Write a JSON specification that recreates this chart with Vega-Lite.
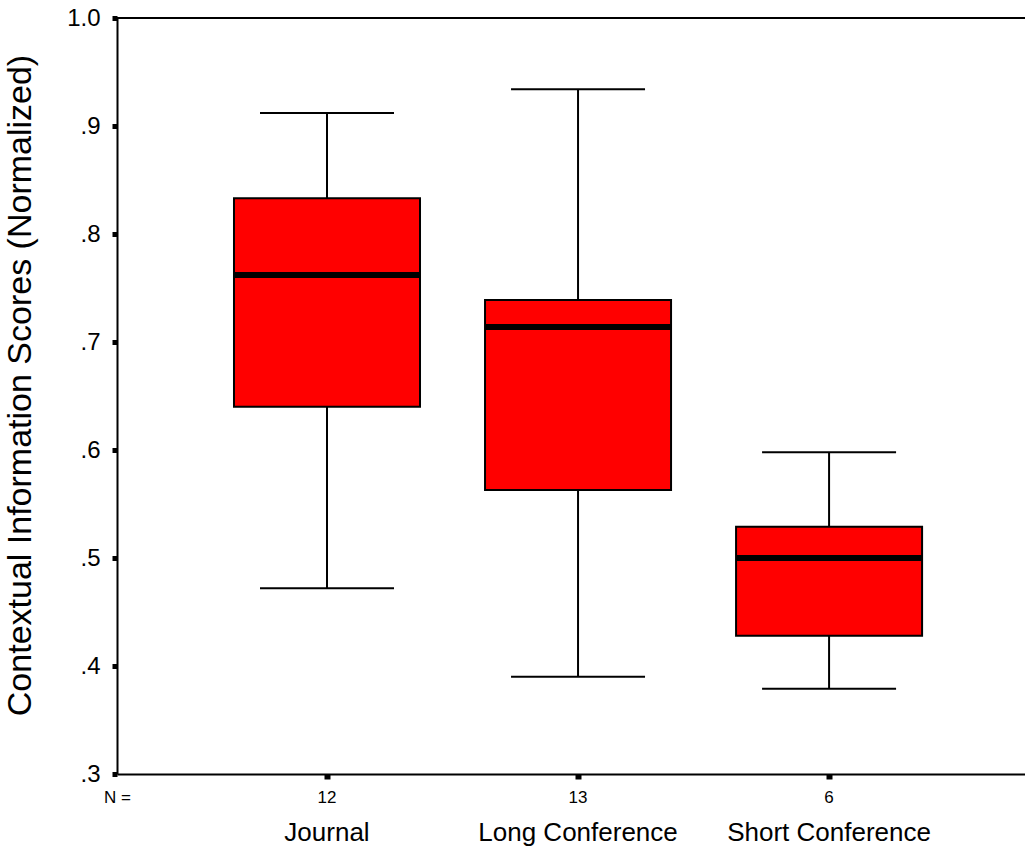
{
  "$schema": "https://vega.github.io/schema/vega-lite/v6.json",
  "width": 908,
  "height": 756,
  "autosize": "none",
  "padding": {"left": 117, "top": 18, "right": 0, "bottom": 74},
  "background": "white",
  "config": {
    "view": {"stroke": null},
    "font": "Liberation Sans",
    "axis": {"grid": false, "labelColor": "black", "titleColor": "black", "domainColor": "black", "tickColor": "black", "labelFont": "Liberation Sans", "titleFont": "Liberation Sans", "labelLimit": 0}
  },
  "data": {
    "values": [
      {"group": "Journal", "n": 12, "min": 0.472, "q1": 0.640, "median": 0.762, "q3": 0.833, "max": 0.912},
      {"group": "Long Conference", "n": 13, "min": 0.390, "q1": 0.563, "median": 0.714, "q3": 0.739, "max": 0.934},
      {"group": "Short Conference", "n": 6, "min": 0.379, "q1": 0.428, "median": 0.500, "q3": 0.529, "max": 0.598}
    ]
  },
  "resolve": {"axis": {"x": "independent"}},
  "layer": [
    {
      "mark": {"type": "rule", "color": "black", "strokeWidth": 2},
      "encoding": {
        "x": {
          "field": "group", "type": "nominal", "sort": null,
          "scale": {"type": "band", "paddingInner": 0.259, "paddingOuter": 0.438, "align": 0.532},
          "axis": {
            "orient": "bottom", "labelAngle": 0, "domainWidth": 2, "tickSize": 5, "tickWidth": 6,
            "labelFontSize": 17, "labelPadding": 10,
            "labelExpr": "datum.value == 'Journal' ? '12' : datum.value == 'Long Conference' ? '13' : '6'",
            "title": "N =", "titleFontSize": 17, "titleFontWeight": "normal", "titleX": 0, "titleY": 15,
            "titleAlign": "center", "titleBaseline": "top", "titleAnchor": null
          }
        },
        "y": {
          "field": "min", "type": "quantitative",
          "scale": {"domain": [0.3, 1.0], "nice": false, "zero": false},
          "axis": {
            "values": [0.3, 0.4, 0.5, 0.6, 0.7, 0.8, 0.9, 1.0],
            "labelExpr": "datum.value >= 0.999 ? '1.0' : '.' + format(datum.value * 10, '.0f')",
            "domainWidth": 2, "tickSize": 5, "tickWidth": 5, "labelFontSize": 24, "labelPadding": 12,
            "title": "Contextual Information Scores (Normalized)", "titleFontSize": 34, "titleFontWeight": "normal", "titlePadding": 29,
            "titleY": 367
          }
        },
        "y2": {"field": "max"}
      }
    },
    {
      "mark": {"type": "bar", "fill": "#ff0000", "stroke": "black", "strokeWidth": 2},
      "encoding": {
        "x": {
          "field": "group", "type": "nominal", "sort": null,
          "axis": {"orient": "bottom", "labelAngle": 0, "domain": false, "ticks": false, "labelFontSize": 26, "labelPadding": 45, "title": null}
        },
        "y": {"field": "q1", "type": "quantitative"},
        "y2": {"field": "q3"}
      }
    },
    {
      "mark": {"type": "tick", "color": "black", "size": 134, "thickness": 2, "opacity": 1},
      "encoding": {
        "x": {"field": "group", "type": "nominal", "sort": null, "axis": null},
        "y": {"field": "min", "type": "quantitative"}
      }
    },
    {
      "mark": {"type": "tick", "color": "black", "size": 134, "thickness": 2, "opacity": 1},
      "encoding": {
        "x": {"field": "group", "type": "nominal", "sort": null, "axis": null},
        "y": {"field": "max", "type": "quantitative"}
      }
    },
    {
      "mark": {"type": "tick", "color": "black", "size": 186, "thickness": 6, "opacity": 1},
      "encoding": {
        "x": {"field": "group", "type": "nominal", "sort": null, "axis": null},
        "y": {"field": "median", "type": "quantitative"}
      }
    },
    {
      "mark": {"type": "rule", "color": "black", "strokeWidth": 2},
      "encoding": {"y": {"datum": 1.0, "type": "quantitative"}}
    }
  ]
}
